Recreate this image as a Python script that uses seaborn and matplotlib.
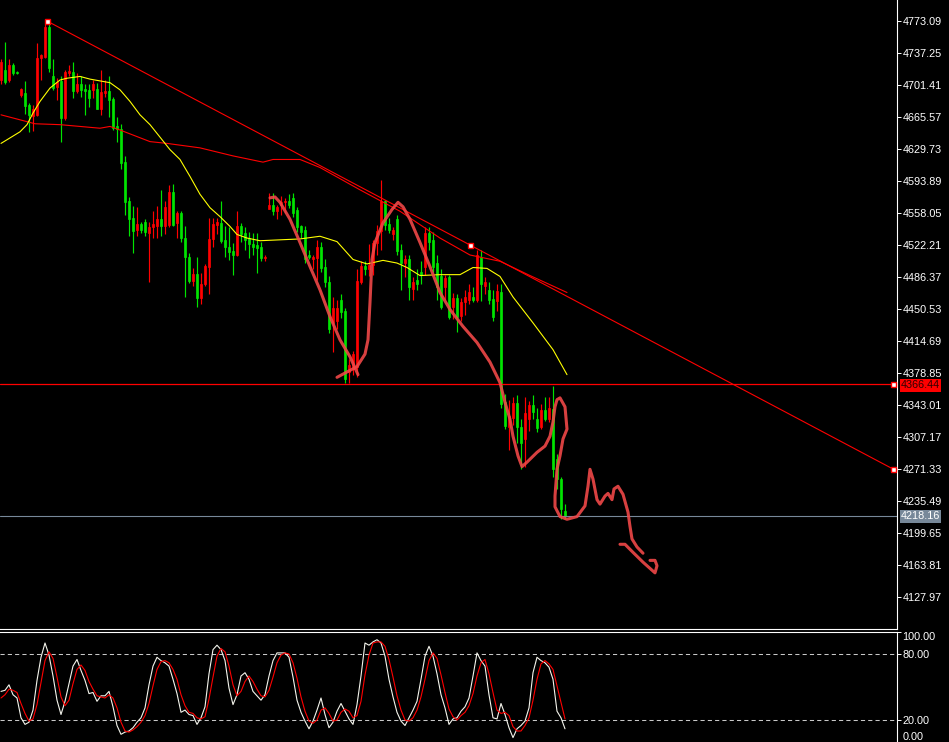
import numpy as np
import pandas as pd
import matplotlib
matplotlib.use("Agg")
import matplotlib.pyplot as plt
import matplotlib.transforms as mtransforms
import seaborn as sns

# 1. DATOS (velas, medias, estocastico)
apertura = [
    4707, 4718, 4707, 4724, 4716, 4690, 4692, 4679, 4667, 4668,
    4732, 4733, 4766, 4711, 4699, 4706, 4665, 4715, 4716, 4695,
    4703, 4697, 4696, 4696, 4697, 4675, 4693, 4695, 4686, 4655,
    4652, 4615, 4571, 4552, 4539, 4546, 4548, 4536, 4542, 4544,
    4551, 4543, 4545, 4582, 4547, 4558, 4530, 4509, 4482, 4490,
    4463, 4478, 4498, 4529, 4545, 4547, 4528, 4520, 4515, 4511,
    4543, 4536, 4530, 4523, 4522, 4520, 4508, 4563, 4567, 4560,
    4567, 4570, 4571, 4575, 4561, 4543, 4539, 4511, 4507, 4508,
    4520, 4498, 4481, 4435, 4437, 4461, 4448, 4380, 4383, 4386,
    4481, 4499, 4495, 4500, 4525, 4538, 4572, 4546, 4534, 4551,
    4517, 4502, 4506, 4473, 4483, 4492, 4498, 4536, 4528, 4502,
    4487, 4475, 4486, 4453, 4463, 4443, 4458, 4461, 4464, 4461,
    4509, 4476, 4472, 4462, 4459, 4470, 4346, 4318, 4329, 4345,
    4318, 4305, 4327, 4343, 4327, 4318, 4337, 4327, 4338, 4282,
    4260, 4224,
]
maximo = [
    4730, 4750, 4730, 4726, 4717, 4698, 4706, 4681, 4679, 4749,
    4736, 4770, 4773, 4731, 4709, 4711, 4718, 4724, 4727, 4715,
    4711, 4702, 4702, 4707, 4704, 4718, 4707, 4711, 4688, 4666,
    4658, 4622, 4576, 4566, 4565, 4548, 4551, 4548, 4560, 4566,
    4584, 4571, 4589, 4590, 4560, 4560, 4543, 4513, 4497, 4509,
    4491, 4501, 4553, 4552, 4553, 4571, 4543, 4542, 4525, 4560,
    4547, 4542, 4537, 4536, 4536, 4526, 4511, 4580, 4580, 4567,
    4577, 4575, 4579, 4581, 4565, 4545, 4543, 4517, 4511, 4528,
    4526, 4506, 4487, 4464, 4461, 4467, 4452, 4394, 4403, 4495,
    4504, 4504, 4523, 4528, 4545, 4595, 4573, 4553, 4542, 4556,
    4523, 4511, 4511, 4486, 4495, 4504, 4542, 4542, 4537, 4511,
    4495, 4489, 4489, 4469, 4467, 4463, 4472, 4478, 4475, 4517,
    4517, 4486, 4481, 4472, 4478, 4478, 4355, 4349, 4352, 4354,
    4327, 4352, 4347, 4354, 4340, 4344, 4352, 4352, 4364, 4288,
    4262, 4232,
]
minimo = [
    4702, 4702, 4705, 4713, 4714, 4688, 4669, 4649, 4650, 4667,
    4707, 4732, 4716, 4696, 4685, 4638, 4662, 4711, 4687, 4693,
    4688, 4668, 4677, 4687, 4674, 4668, 4688, 4666, 4651, 4638,
    4607, 4556, 4532, 4513, 4532, 4536, 4532, 4481, 4530, 4530,
    4532, 4534, 4542, 4543, 4530, 4526, 4464, 4480, 4476, 4453,
    4456, 4476, 4467, 4520, 4534, 4525, 4509, 4505, 4489, 4510,
    4526, 4517, 4508, 4511, 4491, 4504, 4504, 4562, 4556, 4551,
    4556, 4558, 4564, 4554, 4537, 4530, 4502, 4506, 4495, 4483,
    4492, 4475, 4424, 4402, 4428, 4441, 4368, 4368, 4377, 4374,
    4478, 4489, 4488, 4489, 4511, 4517, 4539, 4536, 4528, 4511,
    4472, 4486, 4461, 4461, 4472, 4478, 4489, 4517, 4492, 4461,
    4450, 4461, 4439, 4439, 4425, 4437, 4444, 4456, 4458, 4458,
    4459, 4467, 4456, 4437, 4448, 4340, 4316, 4293, 4321, 4301,
    4271, 4274, 4314, 4327, 4313, 4316, 4325, 4324, 4262, 4249,
    4215, 4215,
]
cierre = [
    4727, 4705, 4724, 4715, 4715, 4697, 4678, 4668, 4675, 4732,
    4735, 4766, 4721, 4698, 4705, 4665, 4716, 4717, 4695, 4703,
    4696, 4695, 4687, 4703, 4675, 4694, 4695, 4685, 4653, 4652,
    4614, 4570, 4551, 4538, 4546, 4539, 4537, 4542, 4546, 4551,
    4543, 4565, 4582, 4545, 4558, 4530, 4509, 4482, 4490, 4463,
    4479, 4499, 4529, 4546, 4548, 4527, 4520, 4514, 4511, 4543,
    4535, 4528, 4523, 4520, 4519, 4508, 4509, 4567, 4560, 4565,
    4570, 4571, 4567, 4558, 4542, 4537, 4506, 4509, 4509, 4520,
    4497, 4481, 4428, 4452, 4452, 4447, 4372, 4388, 4400, 4482,
    4499, 4495, 4500, 4525, 4538, 4571, 4545, 4539, 4539, 4516,
    4502, 4507, 4475, 4481, 4478, 4489, 4536, 4526, 4498, 4475,
    4453, 4485, 4442, 4463, 4442, 4458, 4464, 4470, 4461, 4511,
    4478, 4481, 4461, 4442, 4471, 4344, 4319, 4331, 4345, 4318,
    4301, 4334, 4343, 4335, 4317, 4337, 4327, 4340, 4271, 4260,
    4226, 4218.16,
]

# media movil rapida (amarilla) y lenta (roja), leidas por tramos
ma_rapida_idx = [0, 4.75, 6.5, 8, 9.75, 12.25, 14.75, 16.5, 19.75, 22.25,
                 24.75, 27.25, 29.75, 32.25, 34.75, 37.25, 39.75, 42.25, 44.75, 47.25,
                 49.75, 52.25, 54.75, 57.25, 59, 61.5, 64.75, 69.75, 74.75, 79.75,
                 84, 88, 91.5, 95.5, 99, 101.5, 104.75, 109.75, 114.75, 118,
                 121.5, 124.75, 128, 133, 138, 141.5]
ma_rapida_val = [4636, 4649, 4657, 4670, 4683, 4698, 4707, 4709, 4711, 4708,
                 4706, 4704, 4696, 4683, 4668, 4657, 4643, 4629, 4618, 4599,
                 4579, 4564, 4554, 4543, 4534, 4530, 4527, 4528, 4529, 4532,
                 4526, 4506, 4501, 4505, 4502, 4497, 4488, 4489, 4489, 4497,
                 4496, 4487, 4464, 4435, 4405, 4377]
ma_lenta_idx = [0, 8.5, 14.75, 19.75, 24.75, 27.25, 29.75, 37.25, 41.5, 49.75,
                58, 65.5, 68, 74.75, 79.75, 89.75, 99.75, 109.75, 117.25, 124.75,
                132.25, 141.5]
ma_lenta_val = [4668, 4658, 4657, 4655, 4653, 4655, 4651, 4638, 4636, 4631,
                4622, 4615, 4618, 4618, 4609, 4584, 4560, 4530, 4511, 4504,
                4488, 4469]

estoc_k = [
    46, 47, 52, 43, 40, 22, 16, 18, 29, 56, 77, 90, 79, 60, 38, 25, 37, 53, 69, 75,
    65, 56, 44, 45, 37, 42, 42, 46, 32, 15, 7, 9, 10, 13, 18, 22, 31, 52, 69, 77,
    74, 72, 69, 57, 44, 27, 29, 25, 24, 16, 22, 32, 62, 84, 88, 84, 74, 49, 34, 43,
    60, 63, 57, 46, 42, 38, 43, 60, 74, 81, 81, 81, 77, 59, 38, 27, 19, 12, 19, 29,
    40, 25, 13, 18, 28, 35, 28, 21, 16, 34, 60, 90, 88, 91, 93, 90, 78, 57, 41, 27,
    19, 15, 22, 29, 37, 57, 78, 87, 78, 62, 43, 31, 16, 21, 22, 28, 32, 40, 60, 81,
    74, 69, 43, 22, 21, 35, 25, 13, 4, 12, 15, 19, 31, 63, 77, 74, 72, 68, 57, 28,
    22, 12,
]
estoc_d = [
    40, 43, 48, 47, 45, 35, 26, 19, 21, 34, 54, 74, 82, 76, 59, 41, 33, 38, 53, 66,
    70, 65, 55, 48, 42, 41, 40, 43, 40, 31, 18, 10, 9, 11, 14, 18, 24, 35, 51, 66,
    73, 74, 72, 66, 57, 43, 33, 27, 26, 22, 21, 23, 39, 59, 78, 85, 82, 69, 52, 42,
    46, 55, 60, 55, 48, 42, 41, 47, 59, 72, 79, 81, 80, 72, 58, 41, 28, 19, 17, 20,
    29, 31, 26, 19, 20, 27, 30, 28, 22, 24, 37, 61, 79, 90, 91, 91, 87, 75, 59, 42,
    29, 20, 19, 22, 29, 41, 57, 74, 81, 76, 61, 45, 30, 23, 20, 24, 27, 33, 44, 60,
    72, 75, 62, 45, 29, 26, 27, 24, 14, 10, 10, 15, 22, 38, 57, 71, 74, 71, 66, 51,
    36, 21,
]

precios_eje = [4773.09, 4737.25, 4701.41, 4665.57, 4629.73, 4593.89, 4558.05,
               4522.21, 4486.37, 4450.53, 4414.69, 4378.85, 4343.01, 4307.17,
               4271.33, 4235.49, 4199.65, 4163.81, 4127.97]
niveles_estoc = [100, 80, 20, 0]

linea_horizontal = 4366.44
precio_actual = 4218.16
tendencia_idx = [11.5, 117.25, 223]
tendencia_precio = [4773.09, 4522.21, 4271.33]

# trazos a mano alzada sobre el grafico
trazo_1_idx = [67.25, 68.5, 69.75, 72.25, 74.75, 77.25, 79.75, 82.25, 84.75, 87.25, 89.25]
trazo_1_precio = [4575, 4576, 4570, 4551, 4525, 4498, 4472, 4442, 4416, 4397, 4377]
trazo_2_idx = [84, 86.5, 89, 91, 91.75, 92.25, 92.75, 93.5, 95.5, 97.75,
               99.25, 100.5, 102.25, 104.75, 107.25, 109.75, 112.25, 115.5, 119, 122.25,
               124.75, 126, 127.25, 128, 129.25, 130.25, 131.5, 134, 136, 137.25,
               138, 138.5, 139, 139.75, 141, 141.5, 140.5, 139.75, 139, 138.5,
               138.5, 139.75, 141.5, 144, 146, 146.75, 147.25, 148, 149, 149.75,
               151, 151.75, 152.75, 153.25, 154.25, 155.5, 156.75, 157.25, 157.75, 159, 160.5]
trazo_2_precio = [4374, 4380, 4386, 4400, 4416, 4458, 4506, 4525, 4547, 4562,
                  4570, 4565, 4551, 4525, 4498, 4469, 4450, 4431, 4413, 4391,
                  4368, 4346, 4327, 4308, 4286, 4274, 4279, 4290, 4297, 4308,
                  4324, 4341, 4349, 4351, 4341, 4316, 4305, 4286, 4271, 4241,
                  4229, 4218, 4215, 4218, 4230, 4252, 4271, 4260, 4237, 4232,
                  4241, 4244, 4237, 4249, 4252, 4243, 4223, 4207, 4193, 4184, 4177]
trazo_3_idx = [154.75, 156, 158, 160.5, 163.5, 164, 163.5, 162.25]
trazo_3_precio = [4187, 4187, 4178, 4167, 4155, 4163, 4169, 4169]

ROJO = "#ff0000"
VERDE = "#00e400"
AMARILLO = "#ffff00"
GRIS = "#778899"
TRAZO = "#f04848"
TAM_TEXTO = 7.8


def graficar_mt4():
    # 2. ESTILO GENERAL (fondo negro tipo terminal)
    sns.set_theme(style="dark", rc={
        "axes.facecolor": "black",
        "figure.facecolor": "black",
        "axes.edgecolor": "white",
        "text.color": "white",
        "ytick.color": "white",
    })
    plt.rcParams["font.family"] = ["Liberation Sans", "DejaVu Sans"]

    fig = plt.figure(figsize=(9.49, 7.42), dpi=100)
    ax = fig.add_axes([0, 113 / 742, 897 / 949, 629 / 742])
    ax_st = fig.add_axes([0, 0, 897 / 949, 110 / 742])

    df = pd.DataFrame({"apertura": apertura, "maximo": maximo,
                       "minimo": minimo, "cierre": cierre})
    df["idx"] = np.arange(len(df))
    sube = df["cierre"] > df["apertura"]
    df["color"] = np.where(sube, ROJO, VERDE)
    df["base"] = df[["apertura", "cierre"]].min(axis=1)
    df["cuerpo"] = (df["cierre"] - df["apertura"]).abs().clip(lower=0.9)

    # 3. VELAS
    ax.vlines(df["idx"], df["minimo"], df["maximo"], colors=df["color"], linewidth=0.85)
    ax.bar(df["idx"], df["cuerpo"], bottom=df["base"], width=0.62,
           color=df["color"], edgecolor=df["color"], linewidth=0.5)

    # medias moviles
    sns.lineplot(x=ma_lenta_idx, y=ma_lenta_val, ax=ax, color=ROJO, linewidth=0.8, sort=False)
    sns.lineplot(x=ma_rapida_idx, y=ma_rapida_val, ax=ax, color=AMARILLO, linewidth=0.8, sort=False)

    # linea de tendencia y lineas horizontales
    sns.lineplot(x=tendencia_idx, y=tendencia_precio, ax=ax, color=ROJO, linewidth=0.8, sort=False)
    ax.plot(tendencia_idx, tendencia_precio, ls="none", marker="s", markersize=3.6,
            mfc="white", mec=ROJO, mew=1.0, clip_on=False, zorder=6)
    ax.axhline(linea_horizontal, color=ROJO, linewidth=0.9)
    ax.plot([223], [linea_horizontal], ls="none", marker="s", markersize=3.6,
            mfc="white", mec=ROJO, mew=1.0, clip_on=False, zorder=6)
    ax.axhline(precio_actual, color=GRIS, linewidth=0.8)

    # trazos a mano alzada
    for xs, ys in [(trazo_1_idx, trazo_1_precio), (trazo_2_idx, trazo_2_precio),
                   (trazo_3_idx, trazo_3_precio)]:
        ax.plot(xs, ys, color=TRAZO, linewidth=2.2, alpha=0.9,
                solid_capstyle="round", solid_joinstyle="round", zorder=5)

    ax.set_xlim(-0.25, 224)
    ax.set_ylim(4796.61 - 629 * 1.12, 4796.61)
    ax.set_yticks(precios_eje)
    ax.set_yticklabels([f"{p:.2f}" for p in precios_eje])
    ax.set_xticks([])

    # etiquetas de precio sobre el eje
    trans = mtransforms.blended_transform_factory(ax.transAxes, ax.transData)
    ax.text(1.0045, linea_horizontal - 1.5, f"{linea_horizontal:.2f}", transform=trans,
            va="center", ha="left", fontsize=TAM_TEXTO, color="#300000", clip_on=False,
            bbox=dict(boxstyle="square,pad=0.1", fc=ROJO, ec="none"), zorder=7)
    ax.text(1.0045, precio_actual, f"{precio_actual:.2f}", transform=trans,
            va="center", ha="left", fontsize=TAM_TEXTO, color="white", clip_on=False,
            bbox=dict(boxstyle="square,pad=0.1", fc=GRIS, ec="none"), zorder=7)

    # 4. ESTOCASTICO
    pos = np.arange(len(estoc_k))
    for nivel in [80, 20]:
        ax_st.axhline(nivel, color="#c8c8c8", linewidth=0.75, ls=(0, (4, 3)))
    sns.lineplot(x=pos, y=estoc_k, ax=ax_st, color="#f4f4ec", linewidth=0.8, sort=False)
    sns.lineplot(x=pos, y=estoc_d, ax=ax_st, color=ROJO, linewidth=0.8, sort=False)
    ax_st.set_xlim(-0.25, 224)
    ax_st.set_ylim(0, 100)
    ax_st.set_yticks(niveles_estoc)
    ax_st.set_yticklabels([f"{n:.2f}" for n in niveles_estoc])
    ax_st.set_xticks([])

    for a in (ax, ax_st):
        a.yaxis.tick_right()
        a.tick_params(axis="y", right=True, left=False, labelright=True, labelleft=False,
                      colors="white", length=3, width=0.7, pad=1, labelsize=TAM_TEXTO,
                      direction="out")
        a.set_xlabel("")
        a.set_ylabel("")
        a.grid(False)
        a.spines["left"].set_visible(False)
        a.spines["right"].set_color("white")
        a.spines["right"].set_linewidth(0.8)
    ax.spines["top"].set_visible(False)
    ax.spines["bottom"].set_color("white")
    ax.spines["bottom"].set_linewidth(0.8)
    ax_st.spines["bottom"].set_visible(False)
    ax_st.spines["top"].set_color("white")
    ax_st.spines["top"].set_linewidth(0.8)

    # las etiquetas 100 y 0 se acomodan dentro del panel
    marcas = ax_st.yaxis.get_major_ticks()
    marcas[0].label2.set_va("top")
    marcas[-1].label2.set_va("bottom")

    fig.savefig("out.png", dpi=100, facecolor="black")
    plt.close(fig)


if __name__ == "__main__":
    graficar_mt4()
